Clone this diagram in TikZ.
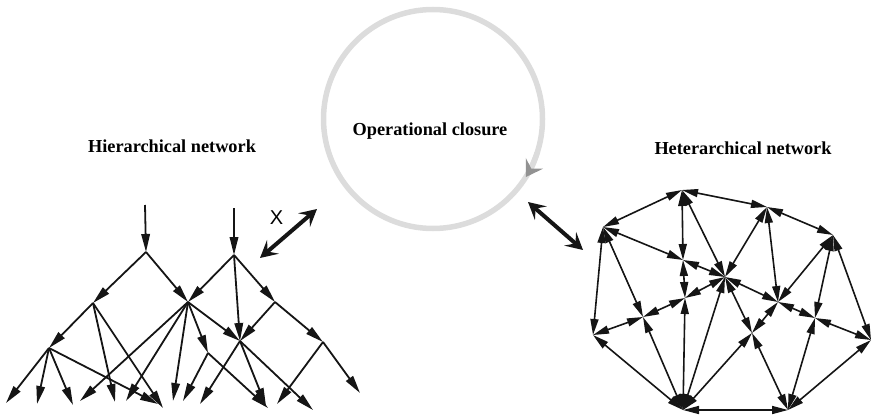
\documentclass[tikz,border=0pt]{standalone}
\usepackage{fontspec}
\setmainfont{Liberation Serif}
\newfontfamily\labelsans{Liberation Sans}
\usetikzlibrary{arrows.meta,calc}
\definecolor{ink}{HTML}{151515}
\definecolor{ringgray}{HTML}{DCDCDC}
\definecolor{ringdark}{HTML}{929292}
\begin{document}
\begin{tikzpicture}[x=1pt,y=-1pt,
  link/.style={draw=ink,line width=1.8pt,-{Triangle[length=18pt,width=8.5pt]}},
  both/.style={draw=ink,line width=1.6pt,{Triangle[length=16pt,width=8pt]}-{Triangle[length=16pt,width=8pt]}},
  bigarrow/.style={draw=ink,line width=4pt,{Stealth[length=17pt,width=18pt,inset=7pt]}-{Stealth[length=17pt,width=18pt,inset=7pt]}},
  title/.style={font=\bfseries\fontsize{18.3}{21}\selectfont,anchor=base,inner sep=0pt}]
\useasboundingbox (0,0) rectangle (874,417);

% ---------- operational closure ring ----------
\coordinate (O) at (433,119);
\draw[ringgray,line width=5.5pt] (O) circle[radius=109.5];
\draw[ringgray,line width=5.5pt,-{Stealth[length=16pt,width=20pt,inset=6pt,color=ringdark]}]
  ($(O)+(18:109.5)$) arc[start angle=18,end angle=32,radius=109.5];
\node[title] (oc) at (430,135) {Operational closure};

% ---------- labels ----------
\node[title] (hier) at (172,152) {Hierarchical network};
\node[title] (heter) at (743,154) {Heterarchical network};
\node[font=\labelsans\fontsize{20}{20}\selectfont] (xlab) at (276.5,217.5) {X};

% ---------- coupling arrows ----------
\coordinate (la1) at (260,258);
\coordinate (la2) at (317,209);
\coordinate (ra1) at (528,202);
\coordinate (ra2) at (583,250);
\draw[bigarrow] (la1) -- (la2);
\draw[bigarrow] (ra1) -- (ra2);

% ---------- hierarchical network ----------
\coordinate (t1) at (145,205);
\coordinate (t2) at (234,208);
\coordinate (a) at (146,252);
\coordinate (b) at (93,303);
\coordinate (c) at (188,302);
\coordinate (d) at (49,348);
\coordinate (g) at (234,255);
\coordinate (h) at (275,302);
\coordinate (f) at (240,341);
\coordinate (e) at (208,353);
\coordinate (i) at (323,342);
% leaves
\coordinate (d1) at (6,403);
\coordinate (d2) at (37,404);
\coordinate (d3) at (73,405);
\coordinate (d4) at (158,404);
\coordinate (b1) at (115,402);
\coordinate (b2) at (163,408);
\coordinate (c1) at (80,401);
\coordinate (c2) at (126,401);
\coordinate (c3) at (173,401);
\coordinate (e1) at (183,401);
\coordinate (e2) at (268,408);
\coordinate (f1) at (200,404);
\coordinate (f2) at (266,406);
\coordinate (f3) at (313,410);
\coordinate (i1) at (277,404);
\coordinate (i2) at (360,393);

\draw[link] (t1) -- (a);
\draw[link] (t2) -- (g);
\draw[link] (a) -- (b);
\draw[link] (a) -- (c);
\draw[link] (b) -- (d);
\draw[link] (g) -- (c);
\draw[link] (g) -- (f);
\draw[link] (g) -- (h);
\draw[link] (h) -- (f);
\draw[link] (h) -- (i);
\draw[link] (c) -- (e);
\draw[link] (c) -- (f);
\foreach \leaf in {d1,d2,d3,d4} \draw[link] (d) -- (\leaf);
\foreach \leaf in {b1,b2} \draw[link] (b) -- (\leaf);
\foreach \leaf in {c1,c2,c3} \draw[link] (c) -- (\leaf);
\foreach \leaf in {e1,e2} \draw[link] (e) -- (\leaf);
\foreach \leaf in {f1,f2,f3} \draw[link] (f) -- (\leaf);
\foreach \leaf in {i1,i2} \draw[link] (i) -- (\leaf);

% ---------- heterarchical network ----------
\coordinate (n1) at (682,190);
\coordinate (n2) at (603,227);
\coordinate (n3) at (683,260);
\coordinate (n4) at (725,277);
\coordinate (n5) at (685,298);
\coordinate (n6) at (643,317);
\coordinate (n7) at (593,335);
\coordinate (n8) at (683,410);
\coordinate (n9) at (767,207);
\coordinate (n10) at (833,235);
\coordinate (n11) at (778,302);
\coordinate (n12) at (815,318);
\coordinate (n13) at (752,333);
\coordinate (n14) at (871,340);
\coordinate (n15) at (788,410);

\foreach \p/\q in {n1/n2,n1/n9,n1/n3,n1/n4,n2/n3,n2/n6,n2/n7,n3/n4,n3/n5,n5/n4,
                   n5/n6,n5/n8,n6/n7,n6/n8,n7/n8,n4/n8,n8/n15,n8/n13,n4/n9,n4/n11,
                   n4/n13,n9/n11,n9/n10,n10/n11,n10/n12,n10/n14,n11/n12,n11/n13,
                   n12/n14,n12/n15,n13/n15,n14/n15}
  \draw[both] (\p) -- (\q);
\end{tikzpicture}
\end{document}
